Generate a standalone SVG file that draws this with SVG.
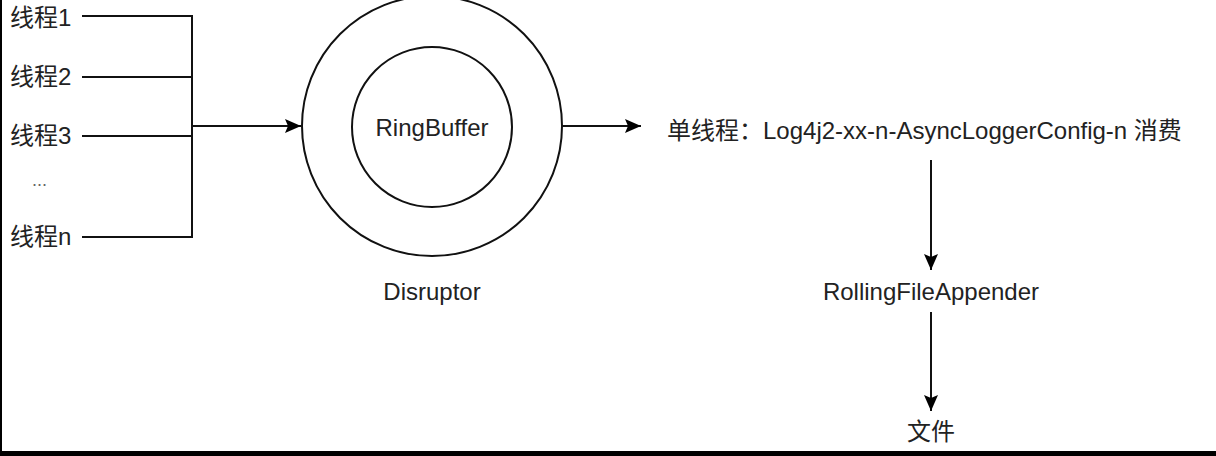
<svg xmlns="http://www.w3.org/2000/svg" width="1216" height="456" viewBox="0 0 1216 456">
<style>
text{font-family:"Liberation Sans","Noto Sans CJK SC",sans-serif;font-size:24px;fill:#222}
.c{text-anchor:middle}
.ln{fill:none;stroke:#111;stroke-width:2}
.ring{fill:none;stroke:#111;stroke-width:2}
</style>
<defs>
<marker id="ah" markerUnits="userSpaceOnUse" markerWidth="17" markerHeight="16" refX="16" refY="7" orient="auto">
<path d="M0,0 L16,7 L0,14 L3,7 z" fill="#000"/>
</marker>
</defs>
<rect x="0" y="0" width="1216" height="456" fill="#fff"/>
<rect x="0" y="0" width="2" height="451" fill="#000"/>
<rect x="0" y="451" width="1216" height="5" fill="#000"/>
<g id="threads">
<text x="10" y="26">线程1</text>
<text x="10" y="85">线程2</text>
<text x="10" y="144">线程3</text>
<text x="32" y="186" style="fill:#666;font-size:18px">...</text>
<text x="10" y="245">线程n</text>
</g>
<g id="disruptor">
<circle class="ring" cx="432" cy="126" r="130"/>
<text class="c" x="432" y="300">Disruptor</text>
</g>
<g id="ringbuffer">
<circle class="ring" cx="432" cy="127" r="80"/>
<text class="c" x="432" y="136">RingBuffer</text>
</g>
<g id="consumer">
<text x="667" y="139">单线程：Log4j2-xx-n-AsyncLoggerConfig-n 消费</text>
</g>
<g id="appender">
<text class="c" x="931" y="300">RollingFileAppender</text>
</g>
<g id="file">
<text class="c" x="931" y="440">文件</text>
</g>
<g id="connectors">
<path class="ln" d="M82,16 H192 M82,77 H192 M82,136 H192 M82,237 H192 M192,15 V238"/>
<path class="ln" d="M192,126 H301" marker-end="url(#ah)"/>
<path class="ln" d="M562,126 H641" marker-end="url(#ah)"/>
<path class="ln" d="M931,160 V270" marker-end="url(#ah)"/>
<path class="ln" d="M931,312 V411" marker-end="url(#ah)"/>
</g>
</svg>
